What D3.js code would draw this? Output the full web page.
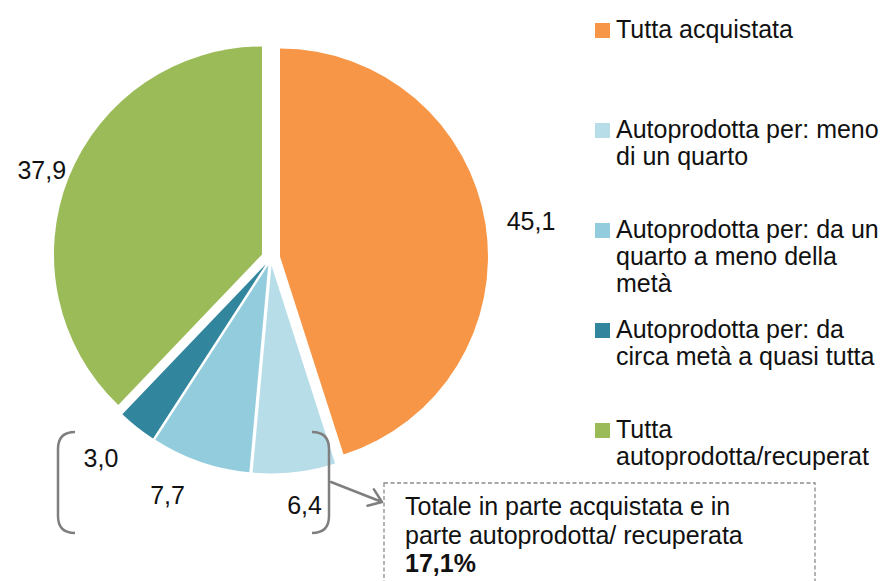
<!DOCTYPE html>
<html>
<head>
<meta charset="utf-8">
<script src="https://cdn.jsdelivr.net/npm/d3@7"></script>
<style>
  html, body { margin: 0; padding: 0; background: #fff; }
  svg { display: block; font-family: "Liberation Sans", Arial, sans-serif; }
</style>
</head>
<body>
<svg id="chart" width="885" height="581"></svg>
<script>
// ---- data ----
const categories = [
  "Tutta acquistata",
  "Autoprodotta per: meno di un quarto",
  "Autoprodotta per: da un quarto a meno della metà",
  "Autoprodotta per: da circa metà a quasi tutta",
  "Tutta autoprodotta/recuperat"
];
const values = [45.1, 6.4, 7.7, 3.0, 37.9];
const valueLabels = ["45,1", "6,4", "7,7", "3,0", "37,9"];
const legendLines = [
  ["Tutta acquistata"],
  ["Autoprodotta per: meno", "di un quarto"],
  ["Autoprodotta per: da un", "quarto a meno della", "metà"],
  ["Autoprodotta per: da", "circa metà a quasi tutta"],
  ["Tutta", "autoprodotta/recuperat"]
];
const noteLines = ["Totale in parte acquistata e in", "parte autoprodotta/ recuperata"];
const noteTotal = "17,1%";

// ---- style / layout ----
const colors = ["#F79646", "#B7DDE8", "#93CDDD", "#31859C", "#9BBB59"];
const explode = [9.4, 7.5, 7.5, 7.5, 9.4];
const labelNudge = [[7, 3], [6, -6], [-20, -4], [-12, 0], [9, 7]];
const cx = 270.7, cy = 258, R = 208, labelR = 247;
const fontSize = 25;

const svg = d3.select("#chart");
const color = d3.scaleOrdinal().domain(categories).range(colors);

const pie = d3.pie().sort(null).value(d => d.value);
const arcs = pie(categories.map((c, i) => ({ cat: c, value: values[i], label: valueLabels[i], i })));
const arc = d3.arc().innerRadius(0).outerRadius(R);

const g = svg.append("g").attr("transform", `translate(${cx},${cy})`);

arcs.forEach(a => {
  const mid = (a.startAngle + a.endAngle) / 2;
  const dx = Math.sin(mid), dy = -Math.cos(mid);
  const e = explode[a.data.i];
  const ox = dx * e, oy = dy * e;
  g.append("path")
    .attr("d", arc(a))
    .attr("transform", `translate(${ox},${oy})`)
    .attr("fill", color(a.data.cat));
  const n = labelNudge[a.data.i];
  g.append("text")
    .attr("x", ox + dx * labelR + n[0])
    .attr("y", oy + dy * labelR + n[1])
    .attr("text-anchor", "middle")
    .attr("dominant-baseline", "central")
    .attr("font-size", fontSize)
    .attr("fill", "#111")
    .text(a.data.label);
});

// ---- legend ----
const legend = svg.append("g").attr("transform", "translate(595,38)");
legendLines.forEach((lines, i) => {
  const item = legend.append("g").attr("transform", `translate(0,${i * 100})`);
  item.append("rect")
    .attr("x", 0).attr("y", -15).attr("width", 15).attr("height", 15)
    .attr("fill", colors[i]);
  const t = item.append("text").attr("x", 21).attr("y", 0)
    .attr("font-size", fontSize).attr("fill", "#111");
  lines.forEach((ln, j) => {
    t.append("tspan").attr("x", 21).attr("y", j * 27).text(ln);
  });
});

// ---- brackets ----
const grey = "#7f7f7f";
svg.append("path")
  .attr("d", "M75,432 Q58,432 58,449 L58,516 Q58,533 75,533")
  .attr("fill", "none").attr("stroke", grey).attr("stroke-width", 2.5);
svg.append("path")
  .attr("d", "M312,432 Q329,432 329,449 L329,516 Q329,533 312,533")
  .attr("fill", "none").attr("stroke", grey).attr("stroke-width", 2.5);

// ---- arrow ----
const a0 = [331, 482], a1 = [382, 502];
const ang = Math.atan2(a1[1] - a0[1], a1[0] - a0[0]);
const headLen = 15, headAng = Math.PI / 5;
const p1 = [a1[0] - headLen * Math.cos(ang - headAng), a1[1] - headLen * Math.sin(ang - headAng)];
const p2 = [a1[0] - headLen * Math.cos(ang + headAng), a1[1] - headLen * Math.sin(ang + headAng)];
svg.append("path")
  .attr("d", `M${a0[0]},${a0[1]} L${a1[0]},${a1[1]} M${p1[0]},${p1[1]} L${a1[0]},${a1[1]} L${p2[0]},${p2[1]}`)
  .attr("fill", "none").attr("stroke", grey).attr("stroke-width", 2.5)
  .attr("stroke-linejoin", "round").attr("stroke-linecap", "round");

// ---- note box ----
svg.append("rect")
  .attr("x", 384).attr("y", 483).attr("width", 431).attr("height", 130)
  .attr("fill", "#fff").attr("stroke", "#8c8c8c").attr("stroke-width", 1.3)
  .attr("stroke-dasharray", "4,2.5");
const nt = svg.append("text").attr("font-size", fontSize).attr("fill", "#111");
noteLines.forEach((ln, j) => {
  nt.append("tspan").attr("x", 405).attr("y", 515 + j * 29).text(ln);
});
svg.append("text").attr("x", 405).attr("y", 572)
  .attr("font-size", fontSize).attr("font-weight", "bold").attr("fill", "#111")
  .text(noteTotal);
</script>
</body>
</html>
